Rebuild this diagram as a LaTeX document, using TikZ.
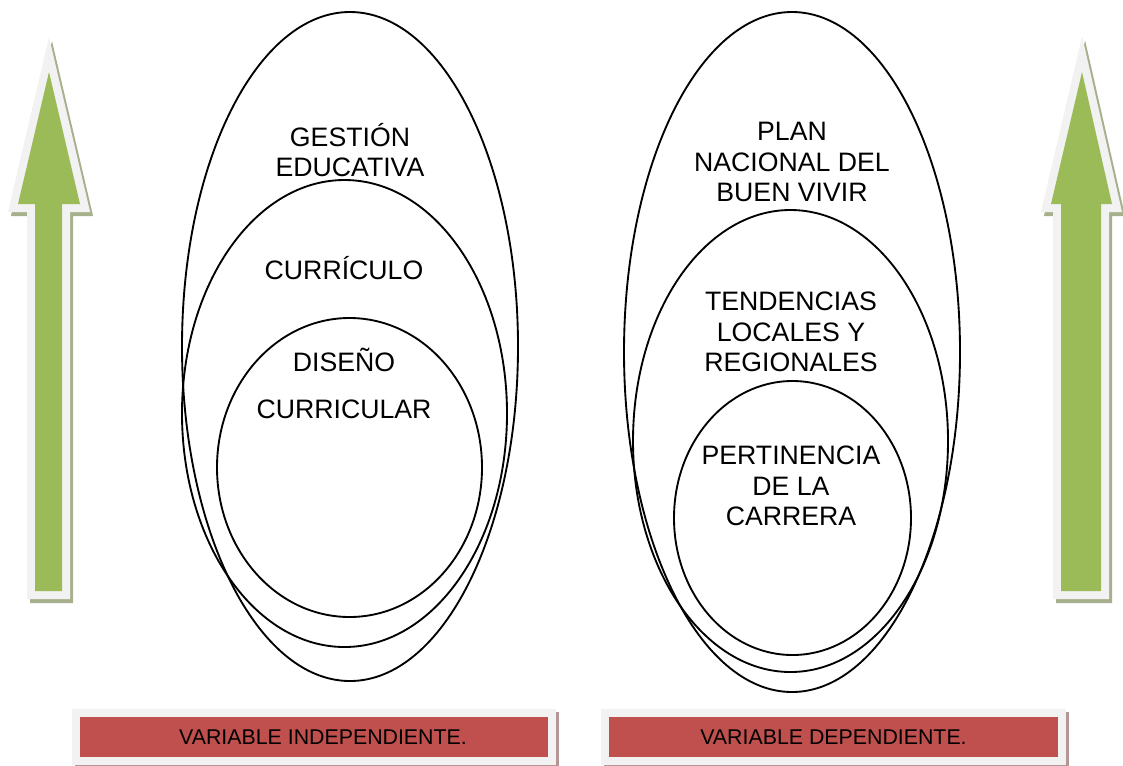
\documentclass[tikz,border=0pt]{standalone}
\usepackage{fontspec}
\setmainfont{Liberation Sans}
\usepackage{tikz}

\definecolor{leafgreen}{RGB}{155,187,89}
\definecolor{framegrey}{RGB}{242,242,242}
\definecolor{olivegrey}{RGB}{166,176,140}
\definecolor{brickred}{RGB}{192,80,77}
\definecolor{rosegrey}{RGB}{180,150,150}

% arrow: head left, shaft left, tip, shaft right, head right
\newcommand{\growarrow}[5]{%
  \draw[olivegrey, fill=olivegrey, line width=12pt, shift={(3,4)}] (#3,72) -- (#5,204) -- (#4,204) -- (#4,591) -- (#2,591) -- (#2,204) -- (#1,204) -- cycle ;
  \draw[framegrey, line width=12pt] (#3,72) -- (#5,204) -- (#4,204) -- (#4,591) -- (#2,591) -- (#2,204) -- (#1,204) -- cycle ;
  \fill[leafgreen] (#3,72) -- (#5,204) -- (#4,204) -- (#4,591) -- (#2,591) -- (#2,204) -- (#1,204) -- cycle ;
}

\tikzset{
  ring/.style={line width=1.4pt},
  caption/.style={align=center, inner sep=0pt, font=\fontsize{20}{23}\selectfont},
  varbox/.style={fill=brickred, draw=framegrey, line width=6pt, minimum width=357pt, minimum height=36pt, inner sep=0pt,
    font=\fontsize{16}{19}\selectfont,
    preaction={draw=rosegrey, fill=rosegrey, line width=6pt, transform canvas={shift={(2pt,-2.25pt)}}}}
}

\begin{document}
\begin{tikzpicture}[x=0.75pt,y=0.75pt,yscale=-1,xscale=1]
    \useasboundingbox (0,0) rectangle (1123,765);

    % side arrows
    \growarrow{18}{35}{49}{62}{80}
    \growarrow{1051}{1061}{1082}{1101}{1112}

    % left group
    \draw[ring] (350,346.5) ellipse [x radius=168, y radius=334.5];
    \draw[ring] (344.5,413.5) ellipse [x radius=162.5, y radius=233.5];
    \draw[ring] (349.5,467.5) ellipse [x radius=132.5, y radius=149.5];

    % right group
    \draw[ring] (792,352) ellipse [x radius=168, y radius=340];
    \draw[ring] (790.5,441) ellipse [x radius=157.5, y radius=231];
    \draw[ring] (792.5,518) ellipse [x radius=118.5, y radius=137];

    \node[caption] (gestion) at (350,150) {GESTIÓN\\EDUCATIVA};
    \node[caption] (curriculo) at (344,268) {CURRÍCULO};
    \node[caption] (diseno) at (344,360) {DISEÑO};
    \node[caption] (curricular) at (344,409) {CURRICULAR};

    \node[caption] (plan) at (792,162) {PLAN\\NACIONAL DEL\\BUEN VIVIR};
    \node[caption] (tendencias) at (791,332) {TENDENCIAS\\LOCALES Y\\REGIONALES};
    \node[caption] (pertinencia) at (791,486) {PERTINENCIA\\DE LA\\CARRERA};

    % variables
    \node[varbox] (indep) at (314,737) {\hspace*{13.5pt}VARIABLE INDEPENDIENTE.};
    \node[varbox, minimum width=342.75pt] (dep) at (833.5,737) {VARIABLE DEPENDIENTE.};

\end{tikzpicture}
\end{document}
